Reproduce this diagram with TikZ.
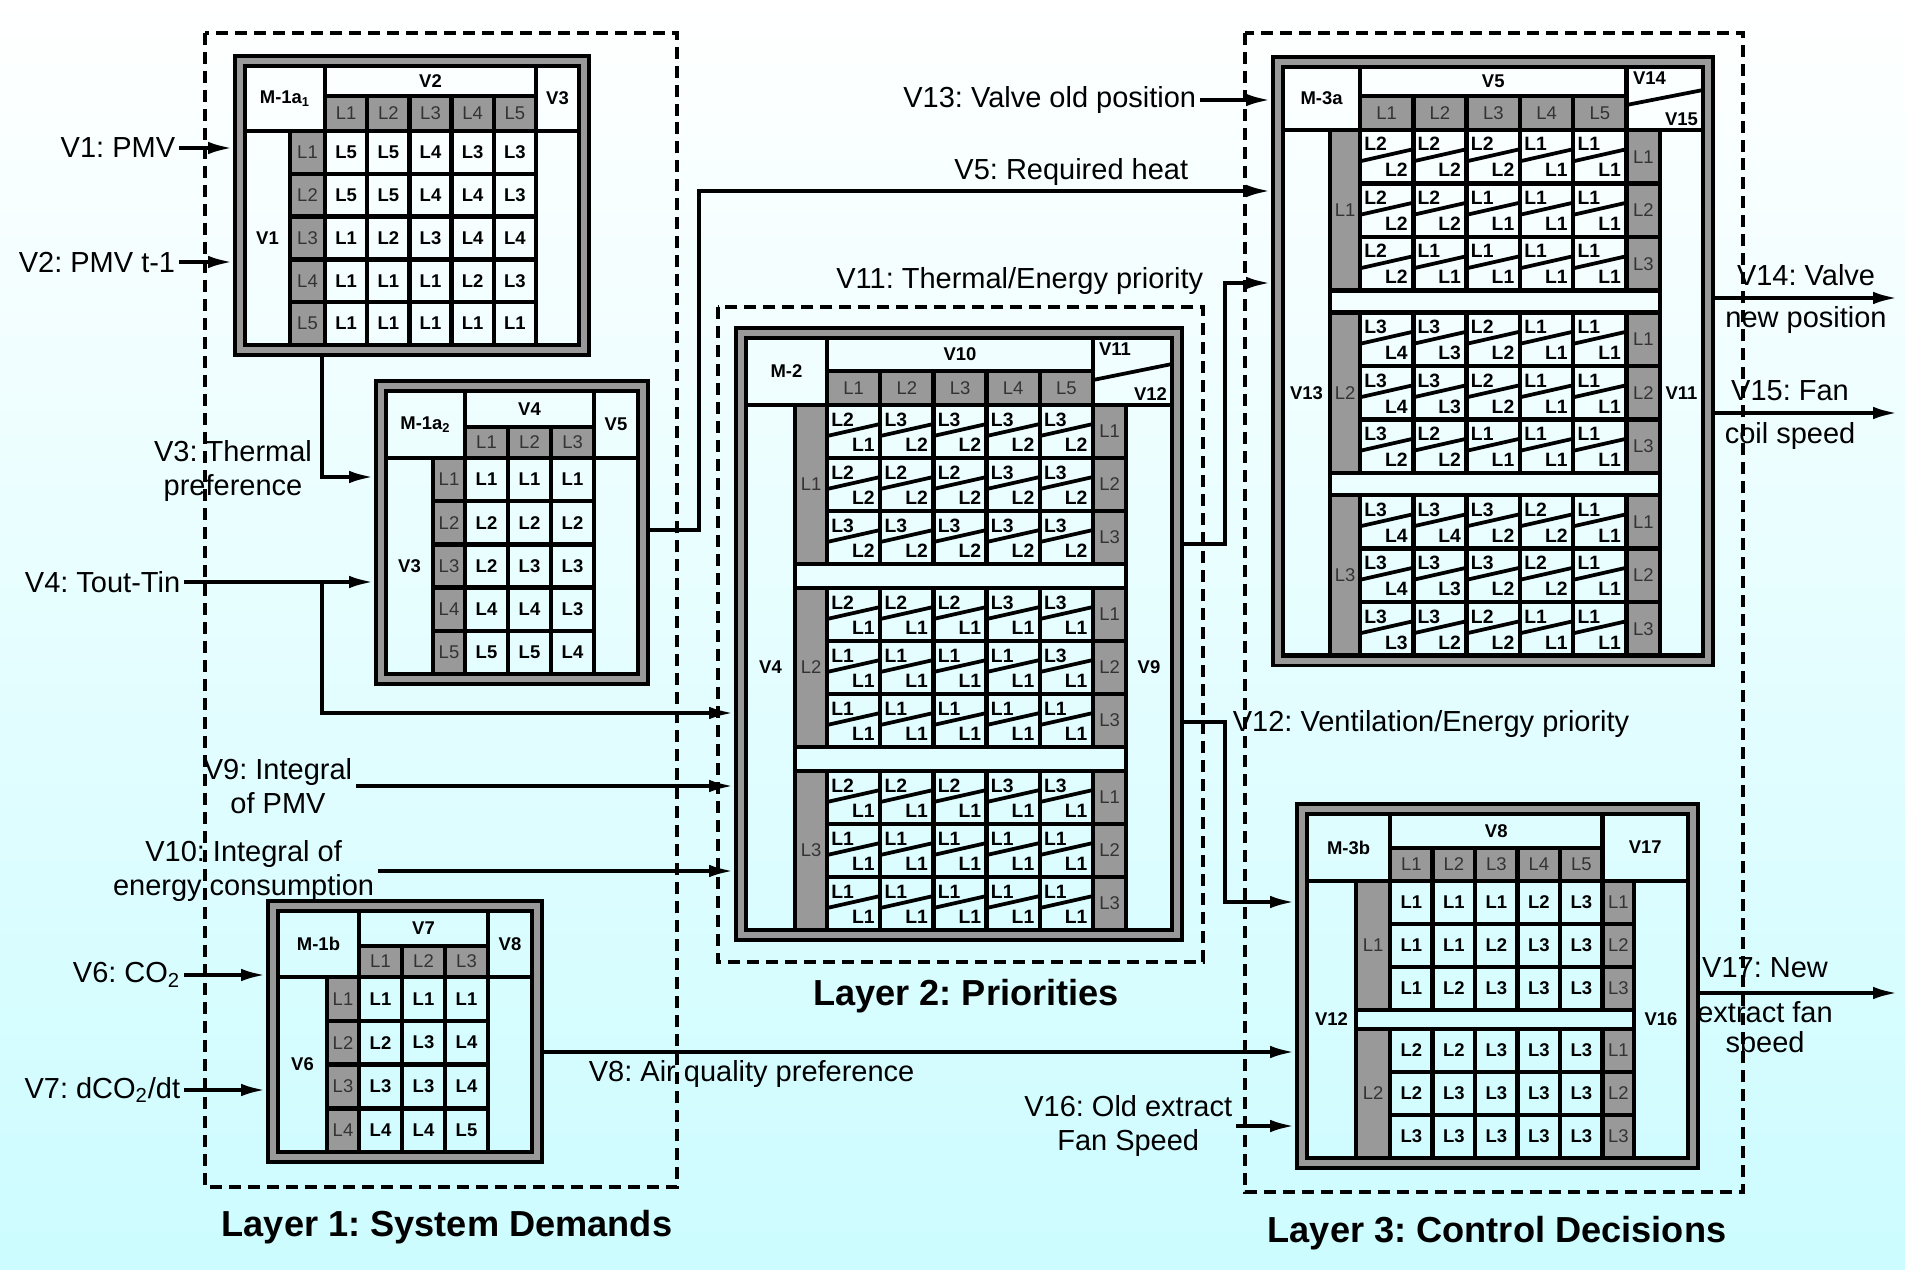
\documentclass[tikz,border=0pt]{standalone}
\usepackage{fontspec}
\setmainfont{Liberation Sans}
\frenchspacing
\usetikzlibrary{arrows.meta, positioning, calc}
\definecolor{cellgray}{HTML}{999999}
\definecolor{bgcyan}{HTML}{CCFCFF}

\begin{document}
\begin{tikzpicture}[x=0.02cm, y=-0.02cm,
    >={Latex[length=0.5cm, width=0.25cm]},
    lab/.style={font=\fontsize{16.5}{19}\selectfont, inner sep=2pt},
    layertitle/.style={font=\fontsize{20.6}{24}\selectfont\bfseries},
    layerbox/.style={line width=0.07cm, dash pattern=on 0.24cm off 0.14cm},
    modframe/.style={draw, line width=0.07cm, double=cellgray,
      double distance=0.14cm, inner sep=0pt, outer sep=0.14cm},
    gridln/.style={line width=0.09cm},
    slash/.style={line width=0.075cm},
    cellbox/.style 2 args={draw, gridln, minimum width=#1*0.02cm,
      minimum height=#2*0.02cm, inner sep=0pt,
      font=\fontsize{10.5}{12}\selectfont\bfseries},
    graybox/.style 2 args={cellbox={#1}{#2}, fill=cellgray, text=black!80,
      font=\fontsize{10.5}{12}\selectfont},
    varname/.style={font=\fontsize{10.5}{12}\selectfont\bfseries, inner sep=1pt},
    splittxt/.style={font=\fontsize{11}{12}\selectfont\bfseries, inner sep=0pt},
    conn/.style={line width=0.08cm}
  ]
  \useasboundingbox (0,0) rectangle (1905,1270);
  \shade[top color=white, bottom color=bgcyan] (0,0) rectangle (1905,1270);

  % layers
  \draw[layerbox] (205,33) rectangle (677,1187);
  \draw[layerbox] (718,307) rectangle (1203,962);
  \draw[layerbox] (1245,33) rectangle (1743,1192);
  \node[layertitle] (t1) at (447,1227) {Layer 1: System Demands};
  \node[layertitle] (t2) at (966,996) {Layer 2: Priorities};
  \node[layertitle] (t3) at (1497,1233) {Layer 3: Control Decisions};

  % ---- M-1a ----
  \node[modframe, minimum width=6.88cm, minimum height=5.78cm] (m1a) at (412,205.5) {};
  \draw[gridln] (245,66) rectangle (325,131) (325,66) rectangle (536,96)
    (536,66) rectangle (579,131) (245,131) rectangle (290,345)
    (536,131) rectangle (579,345);
  \node[varname] (m1a-name) at (285,98.5) {M-1a\textsubscript{1}};
  \node[varname] (m1a-top) at (430.5,81) {V2};
  \node[varname] (m1a-out) at (557.5,98.5) {V3};
  \node[varname] (m1a-left) at (267.5,238) {V1};
  \foreach \c in {1,...,5}
    \node[graybox={42.2}{35}] (m1a-h\c) at ({325+(\c-0.5)*42.2},113.5) {L\c};
  \foreach \r in {1,...,5}
    \node[graybox={35}{42.8}] (m1a-l\r) at (307.5,{131+(\r-0.5)*42.8}) {L\r};
  \foreach \row [count=\r] in {{5,5,4,3,3},{5,5,4,4,3},{1,2,3,4,4},{1,1,1,2,3},{1,1,1,1,1}}
    \foreach \v [count=\c] in \row
      \node[cellbox={42.2}{42.8}] (m1a-\r-\c) at ({325+(\c-0.5)*42.2},{131+(\r-0.5)*42.8}) {L\v};

  % ---- M-1a2 ----
  \node[modframe, minimum width=5.24cm, minimum height=5.86cm] (m1a2) at (512,532.5) {};
  \draw[gridln] (386,391) rectangle (465,458) (465,391) rectangle (594,427)
    (594,391) rectangle (638,458) (386,458) rectangle (433,674)
    (594,458) rectangle (638,674);
  \node[varname] (m1a2-name) at (425.5,424.5) {M-1a\textsubscript{2}};
  \node[varname] (m1a2-top) at (529.5,409) {V4};
  \node[varname] (m1a2-out) at (616,424.5) {V5};
  \node[varname] (m1a2-left) at (409.5,566) {V3};
  \foreach \c in {1,...,3}
    \node[graybox={43}{31}] (m1a2-h\c) at ({465+(\c-0.5)*43},442.5) {L\c};
  \foreach \r in {1,...,5}
    \node[graybox={32}{43.2}] (m1a2-l\r) at (449,{458+(\r-0.5)*43.2}) {L\r};
  \foreach \row [count=\r] in {{1,1,1},{2,2,2},{2,3,3},{4,4,3},{5,5,4}}
    \foreach \v [count=\c] in \row
      \node[cellbox={43}{43.2}] (m1a2-\r-\c) at ({465+(\c-0.5)*43},{458+(\r-0.5)*43.2}) {L\v};

  % ---- M-1b ----
  \node[modframe, minimum width=5.28cm, minimum height=5.02cm] (m1b) at (405,1031.5) {};
  \draw[gridln] (278,911) rectangle (359,977) (359,911) rectangle (488,946)
    (488,911) rectangle (532,977) (278,977) rectangle (327,1152)
    (488,977) rectangle (532,1152);
  \node[varname] (m1b-name) at (318.5,944) {M-1b};
  \node[varname] (m1b-top) at (423.5,928.5) {V7};
  \node[varname] (m1b-out) at (510,944) {V8};
  \node[varname] (m1b-left) at (302.5,1064.5) {V6};
  \foreach \c in {1,...,3}
    \node[graybox={43}{31}] (m1b-h\c) at ({359+(\c-0.5)*43},961.5) {L\c};
  \foreach \r in {1,...,4}
    \node[graybox={32}{43.75}] (m1b-l\r) at (343,{977+(\r-0.5)*43.75}) {L\r};
  \foreach \row [count=\r] in {{1,1,1},{2,3,4},{3,3,4},{4,4,5}}
    \foreach \v [count=\c] in \row
      \node[cellbox={43}{43.75}] (m1b-\r-\c) at ({359+(\c-0.5)*43},{977+(\r-0.5)*43.75}) {L\v};

  % ---- M-2 ----
  \node[modframe, minimum width=8.72cm, minimum height=12.04cm] (m2) at (959,634) {};
  \draw[gridln] (746,338) rectangle (827,405) (827,338) rectangle (1093,371)
    (1093,338) rectangle (1172,405) (746,405) rectangle (795,930)
    (1126,405) rectangle (1172,930);
  \draw[slash] (1093,380) -- (1172,364);
  \node[varname] (m2-name) at (786.5,371.5) {M-2};
  \node[varname] (m2-top) at (960,354.5) {V10};
  \node[varname, anchor=north west] (m2-outa) at (1097,341) {V11};
  \node[varname, anchor=south east] (m2-outb) at (1169,403) {V12};
  \node[varname] (m2-left) at (770.5,667.5) {V4};
  \node[varname] (m2-right) at (1149,667.5) {V9};
  \foreach \c in {1,...,5}
    \node[graybox={53.2}{34}] (m2-h\c) at ({827+(\c-0.5)*53.2},388) {L\c};
  \foreach \grp [count=\g] in {
      {{2/1,3/2,3/2,3/2,3/2},{2/2,2/2,2/2,3/2,3/2},{3/2,3/2,3/2,3/2,3/2}},
      {{2/1,2/1,2/1,3/1,3/1},{1/1,1/1,1/1,1/1,3/1},{1/1,1/1,1/1,1/1,1/1}},
      {{2/1,2/1,2/1,3/1,3/1},{1/1,1/1,1/1,1/1,1/1},{1/1,1/1,1/1,1/1,1/1}}} {
    \pgfmathsetmacro{\yg}{405+(\g-1)*183}
    \node[graybox={32}{159}] (m2-g\g) at (811,{\yg+79.5}) {L\g};
    \foreach \row [count=\r] in \grp {
      \pgfmathsetmacro{\yt}{\yg+(\r-1)*53}
      \node[graybox={33}{53}] (m2-g\g-r\r) at (1109.5,{\yt+26.5}) {L\r};
      \foreach \t/\b [count=\c] in \row {
        \pgfmathsetmacro{\xl}{827+(\c-1)*53.2}
        \draw[gridln] (\xl,\yt) rectangle ++(53.2,53);
        \draw[slash] (\xl,{\yt+31}) -- ({\xl+53.2},{\yt+19});
        \node[splittxt, anchor=base west] (m2-\g-\r-\c-t) at ({\xl+4},{\yt+21}) {L\t};
        \node[splittxt, anchor=base east] (m2-\g-\r-\c-b) at ({\xl+48},{\yt+46.5}) {L\b};
      }
    }
  }
  \foreach \g in {1,2}
    \draw[gridln] (795,{405+\g*183-24}) rectangle (1126,{405+\g*183});

  % ---- M-3a ----
  \node[modframe, minimum width=8.6cm, minimum height=11.97cm] (m3a) at (1493,361.25) {};
  \draw[gridln] (1283,67) rectangle (1360,130) (1360,67) rectangle (1626.5,96)
    (1626.5,67) rectangle (1703,130) (1283,130) rectangle (1330,655.5)
    (1660,130) rectangle (1703,655.5);
  \draw[slash] (1626.5,105) -- (1703,90);
  \node[varname] (m3a-name) at (1321.5,98.5) {M-3a};
  \node[varname] (m3a-top) at (1493.25,81.5) {V5};
  \node[varname, anchor=north west] (m3a-outa) at (1631,70) {V14};
  \node[varname, anchor=south east] (m3a-outb) at (1700,128) {V15};
  \node[varname] (m3a-left) at (1306.5,392.75) {V13};
  \node[varname] (m3a-right) at (1681.5,392.75) {V11};
  \foreach \c in {1,...,5}
    \node[graybox={53.3}{34}] (m3a-h\c) at ({1360+(\c-0.5)*53.3},113) {L\c};
  \foreach \grp [count=\g] in {
      {{2/2,2/2,2/2,1/1,1/1},{2/2,2/2,1/1,1/1,1/1},{2/2,1/1,1/1,1/1,1/1}},
      {{3/4,3/3,2/2,1/1,1/1},{3/4,3/3,2/2,1/1,1/1},{3/2,2/2,1/1,1/1,1/1}},
      {{3/4,3/4,3/2,2/2,1/1},{3/4,3/3,3/2,2/2,1/1},{3/3,3/2,2/2,1/1,1/1}}} {
    \pgfmathsetmacro{\yg}{130+(\g-1)*182.5}
    \node[graybox={30}{160.5}] (m3a-g\g) at (1345,{\yg+80.25}) {L\g};
    \foreach \row [count=\r] in \grp {
      \pgfmathsetmacro{\yt}{\yg+(\r-1)*53.5}
      \node[graybox={33.5}{53.5}] (m3a-g\g-r\r) at (1643.25,{\yt+26.75}) {L\r};
      \foreach \t/\b [count=\c] in \row {
        \pgfmathsetmacro{\xl}{1360+(\c-1)*53.3}
        \draw[gridln] (\xl,\yt) rectangle ++(53.3,53.5);
        \draw[slash] (\xl,{\yt+31.3}) -- ({\xl+53.3},{\yt+19.2});
        \node[splittxt, anchor=base west] (m3a-\g-\r-\c-t) at ({\xl+4},{\yt+21}) {L\t};
        \node[splittxt, anchor=base east] (m3a-\g-\r-\c-b) at ({\xl+48},{\yt+47}) {L\b};
      }
    }
  }
  \foreach \g in {1,2}
    \draw[gridln] (1330,{130+\g*182.5-22}) rectangle (1660,{130+\g*182.5});

  % ---- M-3b ----
  \node[modframe, minimum width=7.82cm, minimum height=7.08cm] (m3b) at (1497.5,986) {};
  \draw[gridln] (1307,814) rectangle (1390,881) (1390,814) rectangle (1602.5,848)
    (1602.5,814) rectangle (1688,881) (1307,881) rectangle (1356,1158)
    (1634,881) rectangle (1688,1158) (1356,1010) rectangle (1634,1029);
  \node[varname] (m3b-name) at (1348.5,847.5) {M-3b};
  \node[varname] (m3b-top) at (1496.25,831) {V8};
  \node[varname] (m3b-out) at (1645.25,847.5) {V17};
  \node[varname] (m3b-left) at (1331.5,1019.5) {V12};
  \node[varname] (m3b-right) at (1661,1019.5) {V16};
  \foreach \c in {1,...,5}
    \node[graybox={42.5}{33}] (m3b-h\c) at ({1390+(\c-0.5)*42.5},864.5) {L\c};
  \foreach \grp [count=\g] in {
      {{1,1,1,2,3},{1,1,2,3,3},{1,2,3,3,3}},
      {{2,2,3,3,3},{2,3,3,3,3},{3,3,3,3,3}}} {
    \pgfmathsetmacro{\yg}{881+(\g-1)*148}
    \node[graybox={34}{129}] (m3b-g\g) at (1373,{\yg+64.5}) {L\g};
    \foreach \row [count=\r] in \grp {
      \node[graybox={31.5}{43}] (m3b-g\g-r\r) at (1618.25,{\yg+(\r-0.5)*43}) {L\r};
      \foreach \v [count=\c] in \row
        \node[cellbox={42.5}{43}] (m3b-\g-\r-\c) at ({1390+(\c-0.5)*42.5},{\yg+(\r-0.5)*43}) {L\v};
    }
  }

  % ---- inputs of layer 1 ----
  \node[lab, anchor=east] (v1) at (179,148) {V1: PMV};
  \node[lab, anchor=east] (v2) at (179,262) {V2: PMV t-1};
  \node[lab, anchor=east] (v4) at (184,582) {V4: Tout-Tin};
  \node[lab, anchor=east] (v6) at (184,975) {V6: CO\textsubscript{2}};
  \node[lab, anchor=east] (v7) at (184,1090) {V7: dCO\textsubscript{2}/dt};
  \node[lab, align=center] (v3) at (233,471) {V3: Thermal\\preference};
  \node[lab, align=center, anchor=east] (v9) at (356,786) {V9: Integral\\of PMV};
  \node[lab, align=center, anchor=east] (v10) at (378,871) {V10: Integral of\\energy consumption};
  \draw[conn,->] (v1.east) -- (v1.east -| m1a.west);
  \draw[conn,->] (v2.east) -- (v2.east -| m1a.west);
  \coordinate (v3bend) at (322,477);
  \draw[conn,->] (v3bend |- m1a.south) -- (v3bend) -- (v3bend -| m1a2.west);
  \draw[conn,->] (v4.east) -- (v4.east -| m1a2.west);
  \coordinate (v4bend) at (322,713);
  \draw[conn,->] (v4.east -| v4bend) -- (v4bend) -- (v4bend -| m2.west);
  \draw[conn,->] (v9.east) -- (v9.east -| m2.west);
  \draw[conn,->] (v10.east) -- (v10.east -| m2.west);
  \draw[conn,->] (v6.east) -- (v6.east -| m1b.west);
  \draw[conn,->] (v7.east) -- (v7.east -| m1b.west);

  % ---- links between layers ----
  \coordinate (v8a) at (600,1052);
  \draw[conn,->] (m1b.east |- v8a) -- (v8a -| m3b.west);
  \node[lab, anchor=west] (v8) at (585,1074) {V8: Air quality preference};
  \coordinate (v5a) at (699,530);
  \coordinate (v5b) at (699,191);
  \draw[conn,->] (m1a2.east |- v5a) -- (v5a) -- (v5b) -- (v5b -| m3a.west);
  \node[lab, anchor=east] (v5) at (1192,172) {V5: Required heat};
  \node[lab, anchor=east] (v13) at (1200,100) {V13: Valve old position};
  \draw[conn,->] (v13.east) -- (v13.east -| m3a.west);
  \coordinate (v11a) at (1225,544);
  \coordinate (v11b) at (1225,283);
  \draw[conn,->] (m2.east |- v11a) -- (v11a) -- (v11b) -- (v11b -| m3a.west);
  \node[lab, anchor=east] (v11) at (1207,281) {V11: Thermal/Energy priority};
  \coordinate (v12a) at (1225,722);
  \coordinate (v12b) at (1225,902);
  \draw[conn,->] (m2.east |- v12a) -- (v12a) -- (v12b) -- (v12b -| m3b.west);
  \node[lab, anchor=west] (v12) at (1229,724) {V12: Ventilation/Energy priority};
  \node[lab, align=center, anchor=east] (v16) at (1236,1126) {V16: Old extract\\Fan Speed};
  \draw[conn,->] (v16.east) -- (v16.east -| m3b.west);

  % ---- outputs ----
  \coordinate (v14e) at (1898,298);
  \draw[conn,->] (m3a.east |- v14e) -- (v14e);
  \node[lab, align=center] (v14) at (1806,299) {V14: Valve\\[5pt]new position};
  \coordinate (v15e) at (1898,413);
  \draw[conn,->] (m3a.east |- v15e) -- (v15e);
  \node[lab, align=center] (v15) at (1790,415) {V15: Fan\\[5pt]coil speed};
  \coordinate (v17e) at (1898,993);
  \draw[conn,->] (m3b.east |- v17e) -- (v17e);
  \node[lab, align=center] (v17) at (1765,1008) {V17: New\\[6.5pt]extract fan\\[-1.5pt]speed};
\end{tikzpicture}
\end{document}
